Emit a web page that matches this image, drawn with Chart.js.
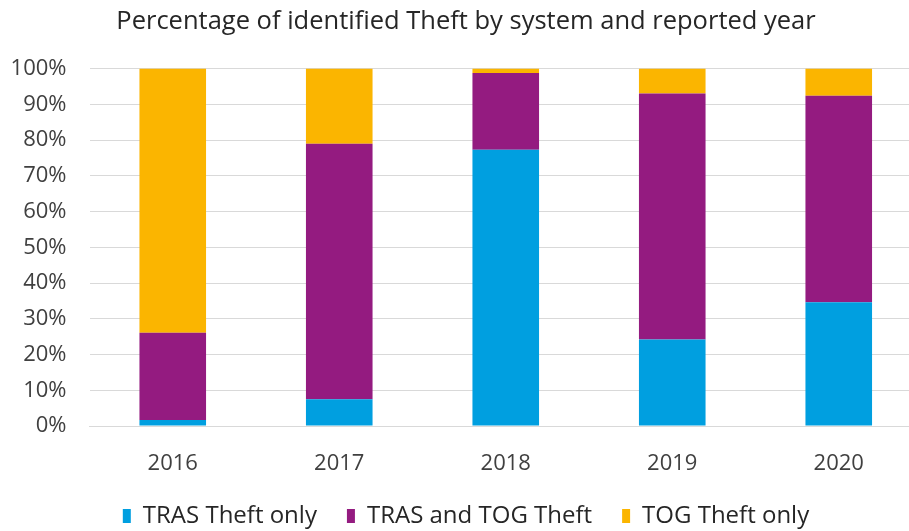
<!DOCTYPE html>
<html lang="en">
<head>
    <meta charset="UTF-8">
    <title>Percentage of identified Theft by system and reported year</title>
    <script src="https://cdn.jsdelivr.net/npm/chart.js"></script>
    <style>
        html, body { margin: 0; padding: 0; background: #fff; overflow: hidden; }
        #wrap { width: 940px; height: 531px; }
    </style>
</head>
<body>
    <div id="wrap"><canvas id="theftChart"></canvas></div>

    <script>
        const years = ['2016', '2017', '2018', '2019', '2020'];
        const trasOnly = [1.7, 7.5, 77.3, 24.2, 34.6];
        const trasAndTog = [24.4, 71.5, 21.5, 68.8, 57.8];
        const togOnly = [73.9, 21.0, 1.2, 7.0, 7.6];

        const font = "'Open Sans', 'Noto Sans', sans-serif";

        const ctx = document.getElementById('theftChart').getContext('2d');
        new Chart(ctx, {
            type: 'bar',
            data: {
                labels: years,
                datasets: [
                    { label: 'TRAS Theft only', data: trasOnly, backgroundColor: '#009FE0' },
                    { label: 'TRAS and TOG Theft', data: trasAndTog, backgroundColor: '#941B80' },
                    { label: 'TOG Theft only', data: togOnly, backgroundColor: '#FBB500' },
                ],
            },
            options: {
                responsive: true,
                maintainAspectRatio: false,
                animation: false,
                layout: { padding: { left: 10, right: 18, top: 0, bottom: 0 } },
                datasets: {
                    bar: { categoryPercentage: 1, barPercentage: 0.4 }
                },
                plugins: {
                    title: {
                        display: true,
                        text: 'Percentage of identified Theft by system and reported year',
                        color: '#262626',
                        font: { family: font, size: 25.5, weight: 'normal' },
                        padding: { top: 6, bottom: 32 },
                    },
                    legend: {
                        position: 'bottom',
                        maxHeight: 57,
                        labels: {
                            color: '#262626',
                            font: { family: font, size: 24 },
                            boxWidth: 8,
                            boxHeight: 14,
                            padding: 30,
                        },
                    },
                    tooltip: { enabled: false },
                },
                scales: {
                    x: {
                        stacked: true,
                        grid: { display: false },
                        border: { color: '#D9D9D9' },
                        ticks: { color: '#404040', font: { family: font, size: 22 }, padding: 17 },
                        afterFit: scale => { scale.height = 48; },
                    },
                    y: {
                        stacked: true,
                        min: 0,
                        max: 100,
                        border: { display: false },
                        grid: { color: '#D9D9D9', drawTicks: false },
                        ticks: {
                            stepSize: 10,
                            color: '#404040',
                            font: { family: font, size: 22 },
                            padding: 23,
                            callback: v => v + '%',
                        },
                        afterFit: scale => { scale.width = 79.5; },
                    },
                },
            },
        });
    </script>
</body>
</html>
